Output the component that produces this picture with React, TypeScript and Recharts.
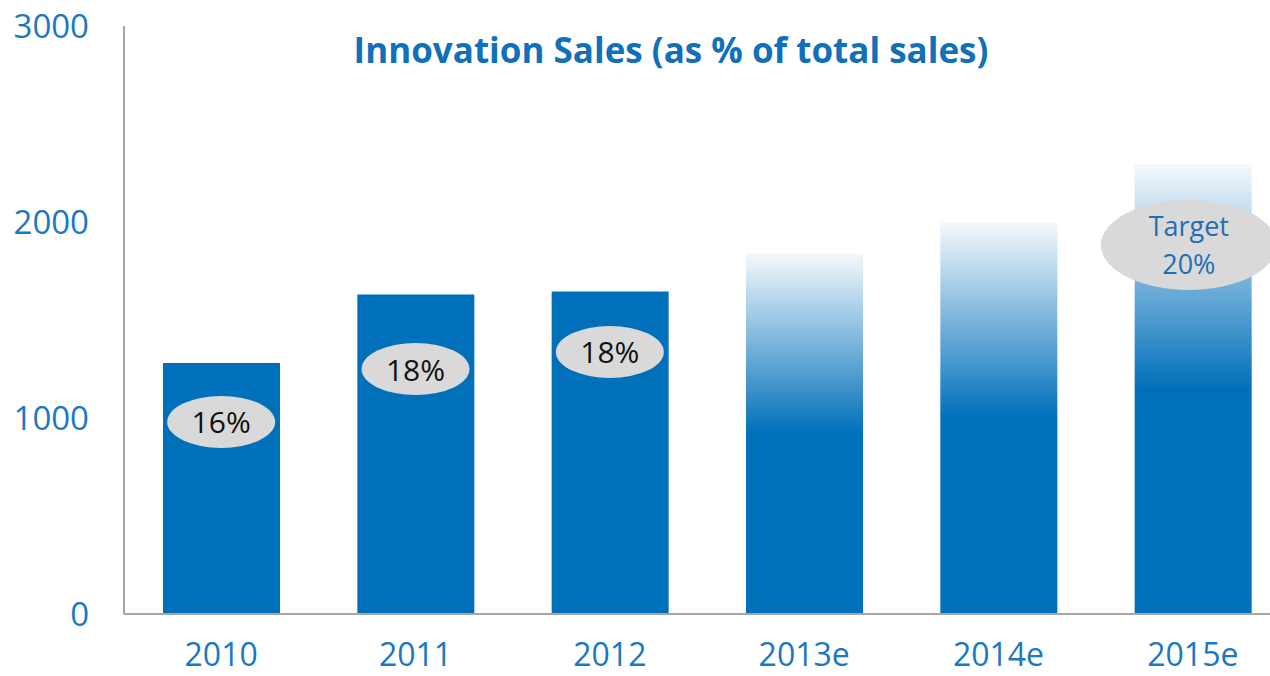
import { BarChart, Bar, Cell, XAxis, YAxis, ReferenceDot } from 'recharts'

const BLUE = '#0070BA'
const TICK_BLUE = '#1C78C0'
const AXIS_GREY = '#A6A6A6'
const FONT = '"Open Sans", "Noto Sans", sans-serif'

// values
const years = ['2010', '2011', '2012', '2013e', '2014e', '2015e']
const sales = [1280, 1630, 1645, 1842, 2000, 2296]
const estimated = [false, false, false, true, true, true]
const yTicks = [0, 1000, 2000, 3000]

// bubble labels (share of total sales) and the height they sit at
const shareYears = ['2010', '2011', '2012', '2015e']
const shareText = [['16%'], ['18%'], ['18%'], ['Target', '20%']]
const shareAt = [980, 1250, 1337, 1883]

const chartData = years.map((year, i) => ({ year, sales: sales[i] }))

const Bubble = (props: any) => {
  const { cx, cy, lines, big } = props
  if (cx == null || cy == null) return null
  const rx = big ? 88 : 54
  const ry = big ? 45 : 26
  const x = big ? cx - 4 : cx
  const fontSize = big ? 27 : 30
  const color = big ? '#1F6FB6' : '#111'
  const lineH = 38
  const startY = cy - ((lines.length - 1) * lineH) / 2
  return (
    <g>
      <ellipse cx={x} cy={cy} rx={rx} ry={ry} fill="#D9D9D9" />
      {lines.map((t: string, k: number) => (
        <text
          key={k}
          x={x}
          y={startY + k * lineH}
          textAnchor="middle"
          dominantBaseline="central"
          fontFamily={FONT}
          fontSize={fontSize}
          fill={color}
        >
          {t}
        </text>
      ))}
    </g>
  )
}

export default function App() {
  return (
    <div
      style={{
        position: 'absolute',
        left: 0,
        top: 0,
        width: 1270,
        height: 676,
        overflow: 'hidden',
        background: '#fff',
      }}
    >
      <BarChart
        width={1290}
        height={676}
        data={chartData}
        margin={{ top: 26, right: 0, left: 0, bottom: 0 }}
      >
        <defs>
          <linearGradient id="fadeBlue" x1="0" y1="0" x2="0" y2="1">
            <stop offset="0" stopColor={BLUE} stopOpacity={0.04} />
            <stop offset="0.5" stopColor={BLUE} stopOpacity={1} />
            <stop offset="1" stopColor={BLUE} stopOpacity={1} />
          </linearGradient>
        </defs>
        <XAxis
          dataKey="year"
          axisLine={{ stroke: AXIS_GREY, strokeWidth: 2 }}
          tickLine={false}
          tickSize={0}
          tickMargin={29}
          height={62}
          tick={{ fill: TICK_BLUE, fontSize: 32, fontFamily: FONT }}
          interval={0}
        />
        <YAxis
          domain={[0, 3000]}
          ticks={yTicks}
          width={124}
          axisLine={{ stroke: AXIS_GREY, strokeWidth: 2 }}
          tickLine={false}
          tickSize={0}
          tickMargin={35}
          tick={{ fill: TICK_BLUE, fontSize: 33, fontFamily: FONT }}
        />
        <Bar dataKey="sales" barSize={117} isAnimationActive={false}>
          {chartData.map((d, i) => (
            <Cell key={d.year} fill={estimated[i] ? 'url(#fadeBlue)' : BLUE} />
          ))}
        </Bar>
        {shareYears.map((year, i) => (
          <ReferenceDot
            key={year}
            x={year}
            y={shareAt[i]}
            r={0}
            shape={(p: any) => (
              <Bubble {...p} lines={shareText[i]} big={shareText[i].length > 1} />
            )}
          />
        ))}
      </BarChart>
      <div
        style={{
          position: 'absolute',
          left: 0,
          width: 1342,
          top: 26,
          textAlign: 'center',
          fontFamily: FONT,
          fontWeight: 700,
          fontSize: 35,
          color: '#1170B8',
          whiteSpace: 'nowrap',
        }}
      >
        Innovation Sales (as % of total sales)
      </div>
    </div>
  )
}
